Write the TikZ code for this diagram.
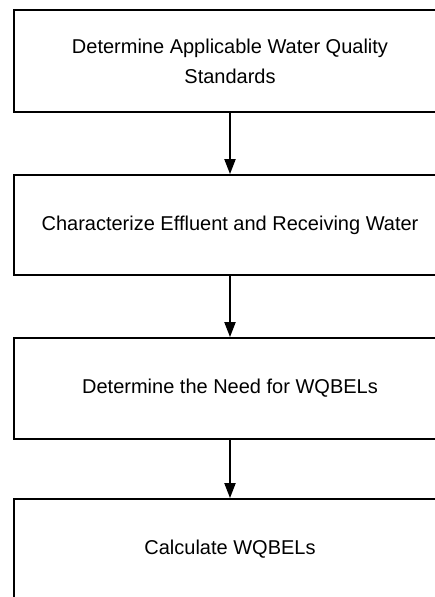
\documentclass[tikz,border=0pt]{standalone}
\usepackage{fontspec}
\setmainfont{Liberation Sans}
\usetikzlibrary{arrows.meta}
\tikzset{
  stepbox/.style={draw=black, line width=1.8pt, minimum width=432pt, inner sep=0pt,
    align=center, font=\fontsize{20}{30}\selectfont, text=black},
  flow/.style={draw=black, line width=2pt, -{Triangle[length=15pt,width=11pt]}}
}
\begin{document}
\begin{tikzpicture}[x=1pt,y=-1pt]
\useasboundingbox (0,0) rectangle (435,597);
\clip (0,0) rectangle (435,597);
\node[stepbox, minimum height=102pt] (b1) at (230,61) {Determine Applicable Water Quality\\Standards};
\node[stepbox, minimum height=100pt] (b2) at (230,225) {Characterize Effluent and Receiving Water};
\node[stepbox, minimum height=101pt] (b3) at (230,388.5) {Determine the Need for WQBELs};
\node[stepbox, minimum height=100pt] (b4) at (230,549) {Calculate WQBELs};
\draw[flow] (b1.south) -- (b2.north);
\draw[flow] (b2.south) -- (b3.north);
\draw[flow] (b3.south) -- (b4.north);
\end{tikzpicture}
\end{document}
